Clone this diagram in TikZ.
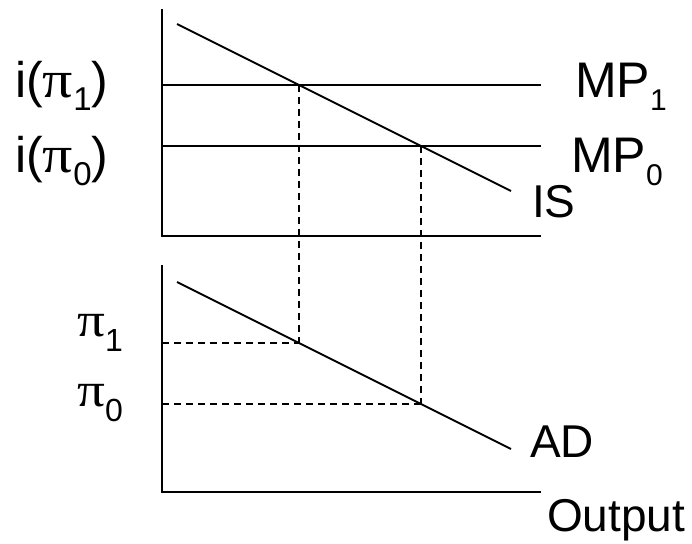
\documentclass[tikz,border=0pt]{standalone}
\usepackage{fontspec}
\setmainfont{Liberation Sans}
\newfontfamily\greekfont{Liberation Serif}
\usetikzlibrary{positioning}
\newcommand{\piglyph}{{\greekfont\scalebox{1.2}[1.05]{π}}}
\newcommand{\lowsub}[3][12pt]{\raisebox{-#1}{\fontsize{#2}{#2}\selectfont #3}}

\begin{document}
\begin{tikzpicture}[x=1pt, y=-1pt,
    axis/.style={line width=2pt},
    curve/.style={line width=1.8pt},
    guide/.style={line width=1.6pt, dash pattern=on 7pt off 5pt},
    lbl/.style={font=\fontsize{46}{50}\selectfont, inner sep=0pt, anchor=base west},
    biglbl/.style={lbl, font=\fontsize{50}{54}\selectfont}
  ]
    \useasboundingbox (0,0) rectangle (692,543);

    % === Top panel: IS / MP ===
    \coordinate (topY) at (162,9);
    \coordinate (topO) at (162,236);
    \coordinate (topX) at (541,236);
    \coordinate (mp1L) at (162,85);
    \coordinate (mp1R) at (541,85);
    \coordinate (mp0L) at (162,146);
    \coordinate (mp0R) at (541,146);
    \coordinate (isA) at (177,24);
    \coordinate (isB) at (511,191);
    \coordinate (e1) at (299,85);
    \coordinate (e0) at (421,146);

    \draw[axis] (topY) -- (topO) -- (topX);
    \draw[curve] (mp1L) -- (mp1R);
    \draw[curve] (mp0L) -- (mp0R);
    \draw[curve] (isA) -- (isB);

    \node[biglbl] (ipi1) at (15,97) {i(\piglyph\lowsub[13pt]{33}{1})};
    \node[biglbl] (ipi0) at (15,172) {i(\piglyph\lowsub[13pt]{33}{0})};
    \node[biglbl] (mp1) at (575,97) {MP\lowsub[13pt]{30}{1}};
    \node[biglbl] (mp0) at (571,172) {MP\lowsub[13pt]{30}{0}};
    \node[lbl] (is) at (532,217) {IS};

    % === Bottom panel: AD ===
    \coordinate (botY) at (162,265);
    \coordinate (botO) at (162,492);
    \coordinate (botX) at (541,492);
    \coordinate (adA) at (177,282);
    \coordinate (adB) at (511,449);
    \coordinate (f1) at (299,343);
    \coordinate (f0) at (421,404);
    \coordinate (p1L) at (162,343);
    \coordinate (p0L) at (162,404);

    \draw[axis] (botY) -- (botO) -- (botX);
    \draw[curve] (adA) -- (adB);

    \node[lbl] (pi1) at (77,336) {\piglyph\lowsub[15pt]{32}{1}};
    \node[lbl] (pi0) at (77,406) {\piglyph\lowsub[15pt]{32}{0}};
    \node[lbl] (ad) at (530,457) {AD};
    \node[lbl] (output) at (547,531) {Output};

    % dashed guides
    \draw[guide] (e1) -- (f1);
    \draw[guide] (e0) -- (f0);
    \draw[guide] (p1L) -- (f1);
    \draw[guide] (p0L) -- (f0);
\end{tikzpicture}
\end{document}
